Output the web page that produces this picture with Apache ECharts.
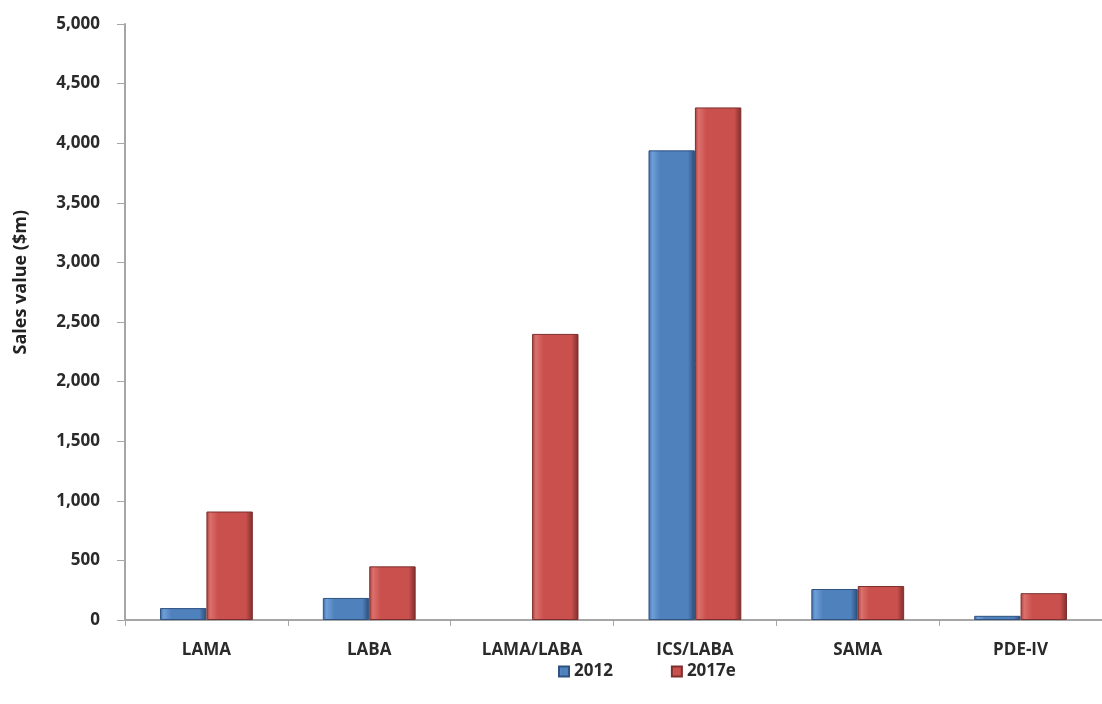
<!DOCTYPE html>
<html><head><meta charset="utf-8">
<script src="https://cdn.jsdelivr.net/npm/echarts@6/dist/echarts.min.js"></script>
<style>html,body{margin:0;padding:0;background:#fff}#c{width:1102px;height:704px}</style>
</head><body><div id="c"></div>
<script>
const categories = ['LAMA', 'LABA', 'LAMA/LABA', 'ICS/LABA', 'SAMA', 'PDE-IV'];
const values2012 = [100, 185, 0, 3940, 260, 35];
const values2017e = [910, 450, 2400, 4300, 285, 225];
const seriesNames = ['2012', '2017e'];
const yTitle = 'Sales value ($m)';

function grad(dark, mid, light, edge) {
  return new echarts.graphic.LinearGradient(0, 0, 1, 0, [
    {offset: 0, color: dark},
    {offset: 0.08, color: light},
    {offset: 0.25, color: mid},
    {offset: 0.85, color: mid},
    {offset: 1, color: edge}
  ]);
}
function toData(arr) {
  return arr.map(v => v === 0 ? {value: v, itemStyle: {borderWidth: 0}} : v);
}
const font = '"Open Sans", "Liberation Sans", sans-serif';
const txt = '#2a2a2a';
const chart = echarts.init(document.getElementById('c'));
chart.setOption({
  animation: false,
  backgroundColor: '#fff',
  grid: {left: 125, right: -13, top: 24, bottom: 84},
  legend: {
    data: seriesNames,
    left: 553, top: 658,
    itemWidth: 10, itemHeight: 10, itemGap: 58,
    icon: 'rect',
    textStyle: {fontFamily: font, fontSize: 17, fontWeight: 'bold', color: txt}
  },
  graphic: [{
    type: 'text', left: 12, top: 210, rotation: Math.PI / 2,
    style: {text: yTitle, font: 'bold 18px ' + font, fill: '#222'}
  }],
  xAxis: {
    type: 'category',
    data: categories,
    axisLine: {lineStyle: {color: '#a6a6a6', width: 2}},
    axisTick: {show: true, length: 6, lineStyle: {color: '#a6a6a6', width: 1}},
    axisLabel: {fontFamily: font, fontSize: 17, fontWeight: 'bold', color: txt, margin: 22}
  },
  yAxis: {
    type: 'value', min: 0, max: 5000, interval: 500,
    splitLine: {show: false},
    axisLine: {show: true, lineStyle: {color: '#a6a6a6', width: 2}},
    axisTick: {show: true, length: 8, lineStyle: {color: '#a6a6a6', width: 1}},
    axisLabel: {fontFamily: font, fontSize: 17, fontWeight: 'bold', color: txt, margin: 25,
      formatter: v => v.toLocaleString('en-US')}
  },
  series: [
    {
      name: seriesNames[0], type: 'bar', data: toData(values2012),
      barGap: '0%', barCategoryGap: '43%',
      itemStyle: {color: grad('#3d6aa3', '#4F81BD', '#6f9fd8', '#2c4c75'), borderColor: '#2f5280', borderWidth: 1}
    },
    {
      name: seriesNames[1], type: 'bar', data: toData(values2017e),
      itemStyle: {color: grad('#a4403d', '#C9504D', '#dc706c', '#7d2d2b'), borderColor: '#7d2f2d', borderWidth: 1}
    }
  ]
});
</script></body></html>
